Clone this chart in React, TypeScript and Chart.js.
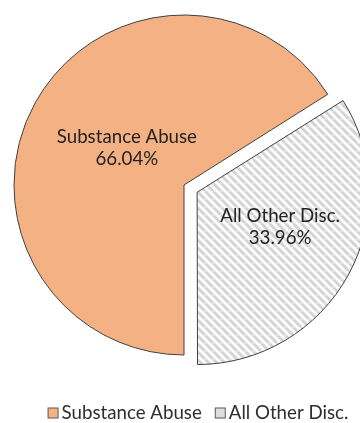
import React, { useEffect, useRef } from "react";
import { Chart, registerables } from "chart.js";

Chart.register(...registerables);

const categories = ["Substance Abuse", "All Other Disc."];
const values = [66.04, 33.96];
const valueLabels = ["66.04%", "33.96%"];

const ORANGE = "#F4B183";
const BORDER = "#404040";
const TEXT = "#222222";
const FONT = "Lato";
const LABEL_SIZE = 18.7;
const LEGEND_SIZE = 18.7;

// label placement (fraction of radius, angle tweak in degrees)
const labelRadius = [0.4, 0.53];
const labelAngle = [4, -6];

function makeHatch(): CanvasPattern | string {
  const s = 8;
  const c = document.createElement("canvas");
  c.width = s;
  c.height = s;
  const g = c.getContext("2d");
  if (!g) return "#e6e6e6";
  g.fillStyle = "#ffffff";
  g.fillRect(0, 0, s, s);
  g.strokeStyle = "#d2d2d2";
  g.lineWidth = 3;
  for (let k = -1; k <= 1; k++) {
    g.beginPath();
    g.moveTo(k * s, 0);
    g.lineTo(k * s + s, s);
    g.stroke();
  }
  return g.createPattern(c, "repeat") || "#e6e6e6";
}

const sliceLabels = {
  id: "sliceLabels",
  afterDatasetsDraw(chart: any) {
    const meta = chart.getDatasetMeta(0);
    const ctx = chart.ctx;
    ctx.save();
    ctx.font = `${LABEL_SIZE}px ${FONT}`;
    ctx.fillStyle = TEXT;
    ctx.textAlign = "center";
    ctx.textBaseline = "middle";
    meta.data.forEach((arc: any, i: number) => {
      const p = arc.getProps(["x", "y", "startAngle", "endAngle", "outerRadius"], true);
      const mid = (p.startAngle + p.endAngle) / 2;
      const off = (arc.options.offset || 0) / 4;
      const cx = p.x + Math.cos(mid) * off;
      const cy = p.y + Math.sin(mid) * off;
      const a = mid + (labelAngle[i] * Math.PI) / 180;
      const r = p.outerRadius * labelRadius[i];
      const x = cx + Math.cos(a) * r;
      const y = cy + Math.sin(a) * r;
      ctx.fillText(categories[i], x, y - 11);
      ctx.fillText(valueLabels[i], x, y + 11);
    });
    ctx.restore();
  },
};

const customLegend = {
  id: "customLegend",
  afterDraw(chart: any) {
    const ctx = chart.ctx;
    const fills = [ORANGE, "#dedede"];
    ctx.save();
    ctx.font = `${LEGEND_SIZE}px ${FONT}`;
    ctx.textBaseline = "middle";
    ctx.textAlign = "left";
    const box = 11;
    const gap = 3;
    const itemGap = 13;
    const widths = categories.map((c) => ctx.measureText(c).width);
    const total =
      widths.reduce((s, w) => s + w + box + gap, 0) + itemGap * (categories.length - 1);
    let x = 198 - total / 2;
    const y = 413;
    categories.forEach((c, i) => {
      ctx.fillStyle = fills[i];
      ctx.fillRect(x + 0.5, y - box / 2 + 0.5, box - 1, box - 1);
      ctx.strokeStyle = "#595959";
      ctx.lineWidth = 1;
      ctx.strokeRect(x + 0.5, y - box / 2 + 0.5, box - 1, box - 1);
      ctx.fillStyle = "#2e2e2e";
      ctx.fillText(c, x + box + gap, y);
      x += box + gap + widths[i] + itemGap;
    });
    ctx.restore();
  },
};

export default function App() {
  const ref = useRef<HTMLCanvasElement>(null);
  useEffect(() => {
    if (!ref.current) return;
    const hatch = makeHatch();
    const chart = new Chart(ref.current, {
      type: "pie",
      data: {
        labels: categories,
        datasets: [
          {
            data: values,
            backgroundColor: [ORANGE, hatch as any],
            borderColor: BORDER,
            borderWidth: 1,
            offset: [0, 60],
            clip: false as any,
          },
        ],
      },
      options: {
        responsive: false,
        animation: false,
        rotation: 180,
        radius: 170,
        layout: { padding: { left: 8, right: 0, top: 0, bottom: 53 } },
        plugins: {
          legend: { display: false },
          tooltip: { enabled: false },
        },
      },
      plugins: [sliceLabels, customLegend],
    });
    return () => chart.destroy();
  }, []);
  return (
    <div
      style={{
        position: "fixed",
        left: 0,
        top: 0,
        width: 360,
        height: 423,
        background: "#ffffff",
        overflow: "hidden",
      }}
    >
      <canvas ref={ref} width={360} height={423} style={{ display: "block" }} />
    </div>
  );
}
